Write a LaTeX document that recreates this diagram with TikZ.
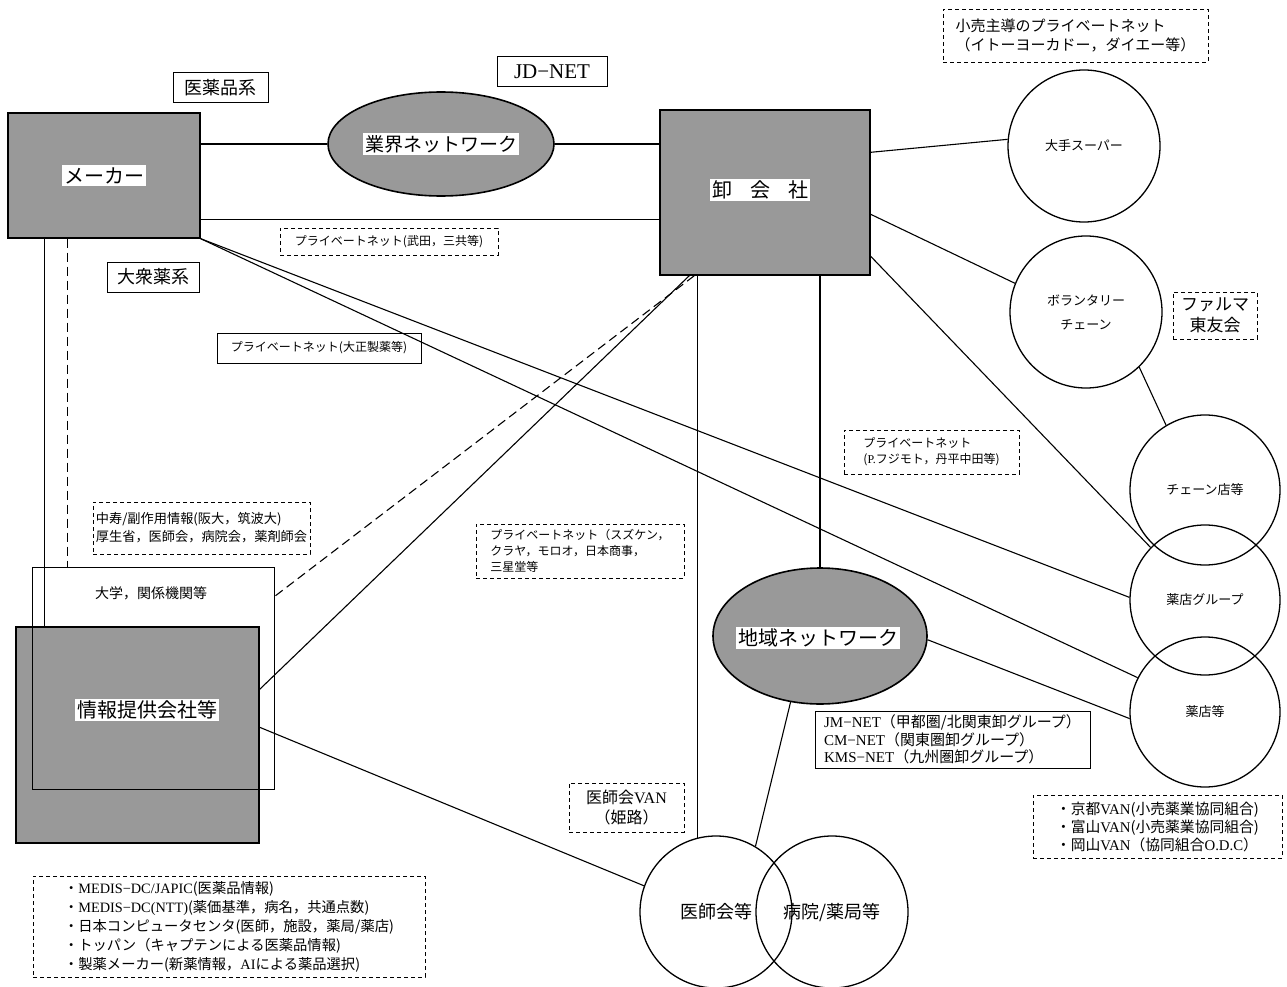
\documentclass[tikz,border=0pt]{standalone}
\usepackage{fontspec}
\setmainfont{Noto Sans CJK JP}
\newfontfamily\lt{Liberation Serif}
\usetikzlibrary{shapes.geometric,calc}
\newcommand\fsz[2]{\fontsize{#1}{#2}\selectfont}
\begin{document}
\begin{tikzpicture}[x=1pt,y=-1pt,
  conn/.style={line width=1.1pt},
  dconn/.style={line width=1.1pt, dash pattern=on 9pt off 5pt},
  box/.style={draw, line width=1pt, inner sep=0pt, align=center},
  dbox/.style={draw, line width=0.8pt, dash pattern=on 4pt off 3pt, inner sep=0pt, align=left},
  graybox/.style={draw, line width=1.4pt, fill=black!40, inner sep=0pt},
  grayell/.style={draw, ellipse, line width=1.6pt, fill=black!40, inner sep=0pt},
  circ/.style={draw, circle, line width=1.3pt, minimum size=152pt, inner sep=0pt, align=center},
  lbl/.style={fill=white, inner sep=2pt}
]
\useasboundingbox (0,0) rectangle (1287,987);
\fill[white] (0,0) rectangle (1287,987);

% ---- nodes ----
\node[graybox, minimum width=192pt, minimum height=125pt] (meka) at (104,175.5) {};
\node[lbl, font=\fsz{20}{24}] (mekaT) at (meka.center) {メーカー};
\node[box, minimum width=95pt, minimum height=30pt, font=\fsz{18}{22}] (iyaku) at (220.5,88) {医薬品系};
\node[box, minimum width=92pt, minimum height=30pt, font=\fsz{18}{22}] (taishu) at (153,277) {大衆薬系};
\node[box, minimum width=110pt, minimum height=30pt, font=\fsz{21}{24}\lt] (jdnet) at (552,72) {JD−NET};
\node[grayell, minimum width=226pt, minimum height=104pt] (gyokai) at (441,144) {};
\node[lbl, font=\fsz{19}{23}] (gyokaiT) at (gyokai.center) {業界ネットワーク};
\node[graybox, minimum width=210pt, minimum height=165pt] (oroshi) at (765,192.5) {};
\node[lbl, font=\fsz{20}{24}] (oroshiT) at (760,190) {卸\hspace{18pt}会\hspace{18pt}社};

\node[dbox, minimum width=265pt, minimum height=53pt, font=\fsz{15}{19}] (kouri) at (1075.5,35.5) {小売主導のプライベートネット\\（イトーヨーカドー，ダイエー等）};
\node[circ, font=\fsz{13}{16}] (daite) at (1084,146) {大手スーパー};
\node[circ, font=\fsz{13}{24}] (vol) at (1086,312) {ボランタリー\\チェーン};
\node[dbox, minimum width=84pt, minimum height=47pt, font=\fsz{17}{21}, align=center] (pharma) at (1215,315.5) {ファルマ\\東友会};
\node[circ, minimum size=150pt, font=\fsz{13}{16}] (chain) at (1205,490) {チェーン店等};
\node[circ, minimum size=150pt, font=\fsz{13}{16}] (yakug) at (1205,600) {薬店グループ};
\node[circ, minimum size=150pt, font=\fsz{13}{16}] (yakuten) at (1205,712) {薬店等};

\node[dbox, minimum width=218pt, minimum height=27pt, font=\fsz{12}{15}] (takeda) at (389,241.5) {プライベートネット(武田，三共等)};
\node[box, minimum width=204pt, minimum height=30pt, font=\fsz{12}{15}] (taisho) at (319,348) {プライベートネット(大正製薬等)};
\node[dbox, minimum width=175pt, minimum height=44pt, font=\fsz{12}{16}] (fuji) at (931.5,452) {プライベートネット\\({\lt P.}フジモト，丹平中田等)};
\node[dbox, minimum width=217pt, minimum height=52pt, font=\fsz{13.2}{18}] (chuju) at (201.5,528) {中寿/副作用情報(阪大，筑波大)\\厚生省，医師会，病院会，薬剤師会};
\node[dbox, minimum width=208pt, minimum height=54pt, font=\fsz{12}{16}] (suzu) at (580,551) {プライベートネット（スズケン，\\クラヤ，モロオ，日本商事，\\三星堂等};

\node[graybox, minimum width=243pt, minimum height=216pt] (joho) at (137.5,735) {};
\node[box, minimum width=242pt, minimum height=222pt] (daigaku) at (153,678) {};
\node[font=\fsz{14}{17}] (daigakuT) at (151,593) {大学，関係機関等};
\node[lbl, font=\fsz{20}{24}] (johoT) at (147,710) {情報提供会社等};

\node[grayell, minimum width=214pt, minimum height=136pt] (chiiki) at (820,636) {};
\node[lbl, font=\fsz{20}{24}] (chiikiT) at (818,638) {地域ネットワーク};
\node[box, minimum width=275pt, minimum height=57pt, font=\fsz{15}{17.5}, align=left] (jm) at (952.5,739.5) {{\lt JM−NET}（甲都圏/北関東卸グループ）\\{\lt CM−NET}（関東圏卸グループ）\\{\lt KMS−NET}（九州圏卸グループ）};
\node[dbox, minimum width=249pt, minimum height=63pt, font=\fsz{14.8}{18}] (kyoto) at (1157.5,826.5) {・京都{\lt VAN}(小売薬業協同組合)\\・富山{\lt VAN}(小売薬業協同組合)\\・岡山{\lt VAN}（協同組合{\lt O.D.C}）};
\node[dbox, minimum width=115pt, minimum height=49pt, font=\fsz{16}{20}, align=center] (ishivan) at (626.5,807.5) {医師会{\lt VAN}\\（姫路）};
\node[circ, font=\fsz{18}{22}] (ishi) at (716,912) {医師会等};
\node[circ, font=\fsz{18}{22}] (byoin) at (832,912) {病院/薬局等};
\node[dbox, minimum width=392pt, minimum height=101pt, font=\fsz{14.3}{19}] (medis) at (229,926.5) {・{\lt MEDIS−DC/JAPIC}(医薬品情報)\\・{\lt MEDIS−DC(NTT)}(薬価基準，病名，共通点数)\\・日本コンピュータセンタ(医師，施設，薬局/薬店)\\・トッパン（キャプテンによる医薬品情報)\\・製薬メーカー(新薬情報，{\lt AI}による薬品選択)};

% ---- coordinates ----
\coordinate (mekaLow) at ($(meka.south east)+(0,-19)$);
\coordinate (mv) at ($(meka.south west)+(37,0)$);
\coordinate (md) at ($(meka.south west)+(60,0)$);
\coordinate (o1) at ($(oroshi.north east)+(0,43)$);
\coordinate (o2) at ($(oroshi.north east)+(0,105)$);
\coordinate (o3) at ($(oroshi.north east)+(0,147)$);
\coordinate (os1) at ($(oroshi.south west)+(30,0)$);
\coordinate (os2) at ($(oroshi.south west)+(35,0)$);
\coordinate (j1) at ($(joho.north east)+(0,63)$);
\coordinate (j2) at ($(joho.north east)+(0,101)$);
\coordinate (d1) at ($(daigaku.north east)+(0,30)$);

% ---- connectors ----
\draw[conn] (gyokai.west -| meka.east) -- (gyokai.west);
\draw[conn] (gyokai.east) -- (gyokai.east -| oroshi.west);
\draw[conn] (mekaLow) -- (mekaLow -| oroshi.west);
\draw[conn] (meka.south east) -- (yakug.178);
\draw[conn] (meka.south east) -- (yakuten.153);
\draw[conn] (mv) -- (mv |- joho.north);
\draw[dconn] (md) -- (md |- daigaku.north);
\draw[conn] (o1) -- (daite.175);
\draw[conn] (o2) -- (vol.158);
\draw[conn] (o3) -- (yakug.136);
\draw[conn] (vol.-46) -- (chain.121);
\draw[conn] (os1) -- (j1);
\draw[dconn] (os2) -- (d1);
\draw[conn] (ishi.104.5) -- (ishi.104.5 |- oroshi.south);
\draw[conn] (chiiki.north) -- (chiiki.north |- oroshi.south);
\draw[conn] (j2) -- (ishi.160);
\draw[conn] (chiiki.246) -- (ishi.59);
\draw[conn] (chiiki.-2) -- (yakuten.185);
\end{tikzpicture}
\end{document}
